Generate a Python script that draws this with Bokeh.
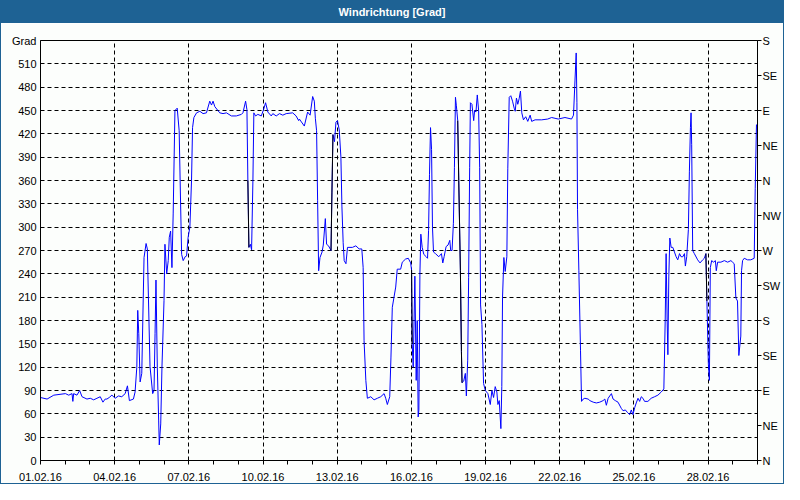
import pandas as pd
from bokeh.plotting import figure
from bokeh.models import (LinearAxis, FixedTicker, Range1d, Div, ColumnDataSource,
                          DatetimeTickFormatter)
from bokeh.layouts import column
from bokeh.embed import file_html
from bokeh.resources import INLINE

TITLE = "Windrichtung [Grad]"
START = "2016-02-01"
END = "2016-03-01"

# hours since 01.02.2016 00:00
HOURS = [
    0, 6.4, 12.9, 24.2, 27.4, 30.6, 31.4, 32.2, 35.4, 38,
    40.3, 45.1, 48.3, 51.6, 54.8, 58, 60.6, 62.8, 64.5, 66.7,
    69.3, 72.5, 75.7, 78.9, 82.2, 84.4, 86.3, 90.2, 91.8, 93.5, 94.4, 95.4,
    96.7, 98.3, 100.5, 102.5, 103.7, 106.3, 108.9, 110.2, 111.2, 112.1,
    113.4, 114.7, 115.3, 116.7, 117.9, 119.9, 120.8, 122.5, 124, 125,
    126.3, 127.6, 128.8, 130.5, 132.7, 134.6, 136, 137, 138.5, 140.4,
    141.8, 143.3, 145, 146.6, 147.6, 148.9, 151.5, 154.7, 157.8, 161.1,
    164.3, 166, 167.5, 169.2, 174, 177.2, 180.5, 185.3, 190.1, 195,
    196.5, 199.1, 200.4, 201.3, 202.3, 203.7, 204.9, 206.2, 207.1, 208.8,
    211, 214.3, 216.5, 218.5, 220.7, 224, 225.5, 228.8, 232, 235.2,
    238.5, 244.8, 248.1, 250.6,
    251.3, 256.1, 259.3, 261.7, 264.2, 265.8, 266.8, 268, 269, 270,
    271.3, 273.3, 274.5, 276.5, 277.7, 279.6, 282, 282.9, 283.9, 285.4,
    286.8, 288.3, 290, 291.6, 292.6, 293.8, 294.8, 296.5, 298, 302.8,
    306.1, 309.3, 311.9, 313.2, 314.1, 315.8, 317.3, 320.6, 323.8, 327,
    330.3, 333.5, 335.1, 336.7, 339, 340.2, 341.5, 344.8, 346.3, 349.6,
    351.2, 354.4, 357, 359.3, 360.2, 360.8, 361.8, 363.4, 364.7, 365.7,
    366.6, 367.3, 368.3, 369.2, 370.5, 372.1, 374.4, 375.7, 376.7, 377.6,
    378.6, 379.6, 380.5, 381.5, 383.4, 386.6, 389.2, 390.5, 391.8, 393.7,
    395.6, 397.3, 398.2, 399.5, 400.8, 401.8, 402.8, 403.7, 405, 406,
    407.6, 408.6, 409.2, 410.8, 412.4, 413.4, 414.7, 415.6, 416.6, 417.3,
    418.8, 420.5, 421.4, 422.7, 424, 425.3, 426.3, 427.2, 428.5, 430.1,
    431.8, 434.3, 436.6, 438.2, 439.8, 441.4, 443, 444, 445.3, 446.9,
    447.8, 448.5, 449.8, 451.1, 452.7, 453.6, 455, 456.5, 458.2, 459.8,
    460.8, 462, 463.3, 464.6, 465.9, 467.2, 468.8, 471, 473, 475.3,
    476.8, 480.1, 486.5, 492.3,
    496.2, 502.6, 509.1, 515.5, 517.4, 518.8, 520, 520.7, 521.3, 522.6,
    524.2, 525.2, 526.8, 528.4, 531.6, 533.3, 536.5, 539.6, 542.9, 546.1,
    547.8, 549.3, 551, 554.2, 555.8, 558, 560.6, 563.8, 565.5, 567.7,
    569.6, 571.9, 573.5, 575.1, 576.8, 578.3, 580, 581.6, 583.2, 584.8,
    586.4, 589.6, 592.8, 596.1, 599.3, 602.5, 605.1, 606.4, 607.3, 608.3,
    609, 609.9, 610.9, 612.2, 613.8, 615.4, 617, 618.6, 620.3, 621.8,
    623.5, 625.1, 626, 627.3, 628.9, 629.9, 630.9, 631.5, 632.1, 633.1,
    634.7, 637.9, 640.2, 642.8, 644.4, 645.9, 646.9, 648.3, 649.3, 650.2,
    651.5, 653.4, 655.1, 656, 657.3, 660.5, 663.8, 667, 670.2, 671.8,
    673.4, 675, 676.6, 677.9, 679.8, 680.5, 681.5, 683.1, 686.3, 689.5,
    692.8, 693.8, 695,
]

# wind direction in degrees
DEG = [
    81, 79, 84, 86, 84, 86, 76, 86, 84, 90,
    82, 79, 80, 78, 80, 82, 75, 79, 79, 81,
    84, 80, 83, 82, 86, 96, 77, 79, 88, 120, 193, 163,
    101, 112, 261, 279, 272, 121, 86, 90, 163, 232,
    120, 52, 20, 47, 120, 206, 278, 240, 257, 287,
    295, 248, 317, 450, 453, 424, 330, 265, 257, 262,
    263, 287, 300, 360, 428, 441, 447, 449, 446, 447,
    462, 457, 462, 455, 447, 446, 447, 443, 443, 445,
    447, 462, 451, 360, 274, 278, 271, 360, 447, 443,
    445, 443, 451, 460, 448, 443, 446, 443, 446, 444,
    446, 447, 443, 437,
    439, 430, 448, 444, 468, 462, 440, 424, 334, 244,
    261, 268, 277, 311, 278, 276, 270, 344, 419, 410,
    435, 437, 425, 390, 326, 280, 257, 253, 274, 274,
    276, 272, 272, 248, 154, 103, 80, 82, 78, 80,
    82, 86, 80, 72, 82, 133, 197, 223, 246, 246,
    255, 259, 260, 254, 245, 150, 120, 237, 103, 180,
    56, 65, 240, 291, 274, 265, 262, 260, 296, 368,
    428, 400, 300, 268, 266, 262, 266, 254, 262, 275,
    277, 283, 270, 270, 305, 377, 467, 456, 437, 360,
    244, 140, 100, 102, 112, 83, 129, 235, 377, 460,
    458, 437, 450, 448, 470, 450, 377, 200, 175, 99,
    90, 86, 72, 90, 81, 95, 88, 72, 77, 41,
    95, 210, 261, 243, 262, 375, 467, 469, 462, 453,
    449, 466, 458, 465, 475, 447, 438, 442, 436, 444,
    436, 438, 438, 439,
    441, 439, 441, 439, 444, 488, 524, 460, 323, 244,
    141, 76, 79, 80, 79, 77, 75, 74, 75, 77,
    79, 71, 80, 86, 79, 77, 75, 67, 64, 65,
    62, 59, 65, 59, 68, 74, 80, 76, 82, 80,
    76, 76, 80, 82, 84, 88, 92, 180, 266, 180,
    136, 236, 286, 274, 274, 268, 262, 258, 266, 262,
    262, 266, 250, 262, 297, 372, 428, 447, 406, 270,
    266, 258, 254, 258, 260, 266, 205, 124, 103, 248,
    257, 255, 257, 244, 255, 255, 257, 255, 257, 255,
    253, 209, 205, 135, 160, 244, 257, 260, 258, 258,
    260, 350, 432,
]

# stretches (hours) that the original draws as black connecting lines (data gaps)
GAP_SPANS = [(201.3, 202.3), (282.0, 283.9), (360.2, 360.8), (405.0, 409.2), (645.9, 646.9)]

Y_TICKS = list(range(0, 541, 30))
Y_TOP_LABEL = "Grad"
COMPASS_TICKS = list(range(0, 541, 45))
COMPASS_LABELS = ["N", "NE", "E", "SE", "S", "SW", "W", "NW", "N", "NE", "E", "SE", "S"]
X_TICK_DATES = pd.date_range(START, "2016-02-28", freq="3D")
X_MINOR_DATES = pd.date_range(START, END, freq="1D")

FONT = "Liberation Sans"
BG = "#fcfefc"
BAR = "#1e6294"

t0 = pd.Timestamp(START)
times = t0 + pd.to_timedelta(HOURS, unit="h")
src = ColumnDataSource(dict(t=times, deg=DEG))

W = 782
p = figure(width=W, height=460, x_axis_type="datetime",
           x_range=Range1d(pd.Timestamp(START), pd.Timestamp(END)),
           y_range=Range1d(0, 540),
           output_backend="svg", toolbar_location=None,
           min_border_left=39, min_border_right=23, min_border_top=17, min_border_bottom=22)
p.background_fill_color = BG
p.border_fill_color = BG
p.outline_line_color = "black"
p.outline_line_alpha = 1

p.line("t", "deg", source=src, line_color="#0000ff", line_width=1)

for a, b in GAP_SPANS:
    idx = [i for i, h in enumerate(HOURS) if a <= h <= b]
    p.line([times[i] for i in idx], [DEG[i] for i in idx], line_color="black", line_width=1)

ms = lambda d: d.value // 10**6
p.xaxis.ticker = FixedTicker(ticks=[ms(d) for d in X_TICK_DATES],
                             minor_ticks=[ms(d) for d in X_MINOR_DATES])
fmt = "%d.%m.%y"
p.xaxis.formatter = DatetimeTickFormatter(days=fmt, months=fmt, hours=fmt, years=fmt,
                                          minutes=fmt, hourmin=fmt, minsec=fmt, seconds=fmt)
p.xaxis.major_tick_out = 0
p.xaxis.major_tick_in = 0
p.xaxis.minor_tick_out = 4
p.xaxis.minor_tick_in = 0
p.xaxis.major_label_standoff = 8

p.yaxis.ticker = FixedTicker(ticks=Y_TICKS)
p.yaxis.major_label_overrides = {Y_TICKS[-1]: Y_TOP_LABEL}
p.yaxis.major_tick_out = 0
p.yaxis.major_tick_in = 0
p.yaxis.minor_tick_out = 0
p.yaxis.major_label_standoff = 4

right = LinearAxis(ticker=FixedTicker(ticks=COMPASS_TICKS),
                   major_label_overrides=dict(zip(COMPASS_TICKS, COMPASS_LABELS)))
right.major_tick_out = 4
right.major_tick_in = 0
right.minor_tick_out = 0
right.major_label_standoff = 1
p.add_layout(right, "right")

for ax in p.xaxis + p.yaxis + [right]:
    ax.axis_line_color = "black"
    ax.major_tick_line_color = "black"
    ax.minor_tick_line_color = "black"
    ax.major_label_text_font = FONT
    ax.major_label_text_font_size = "11px"
    ax.major_label_text_color = "black"

for g in (p.xgrid, p.ygrid):
    g.grid_line_color = "black"
    g.grid_line_dash = "4 3"
    g.grid_line_width = 1

title = Div(text=(f'<div style="background:{BAR};color:white;font-family:\'{FONT}\';'
                  f'font-weight:bold;font-size:11px;text-align:center;height:22px;'
                  f'line-height:22px;width:{W}px">{TITLE}</div>'),
            width=W, height=22, margin=0)

layout = column(title, p, spacing=0, styles={"border": f"1px solid {BAR}"})
open("out.html", "w").write(file_html(layout, INLINE))
